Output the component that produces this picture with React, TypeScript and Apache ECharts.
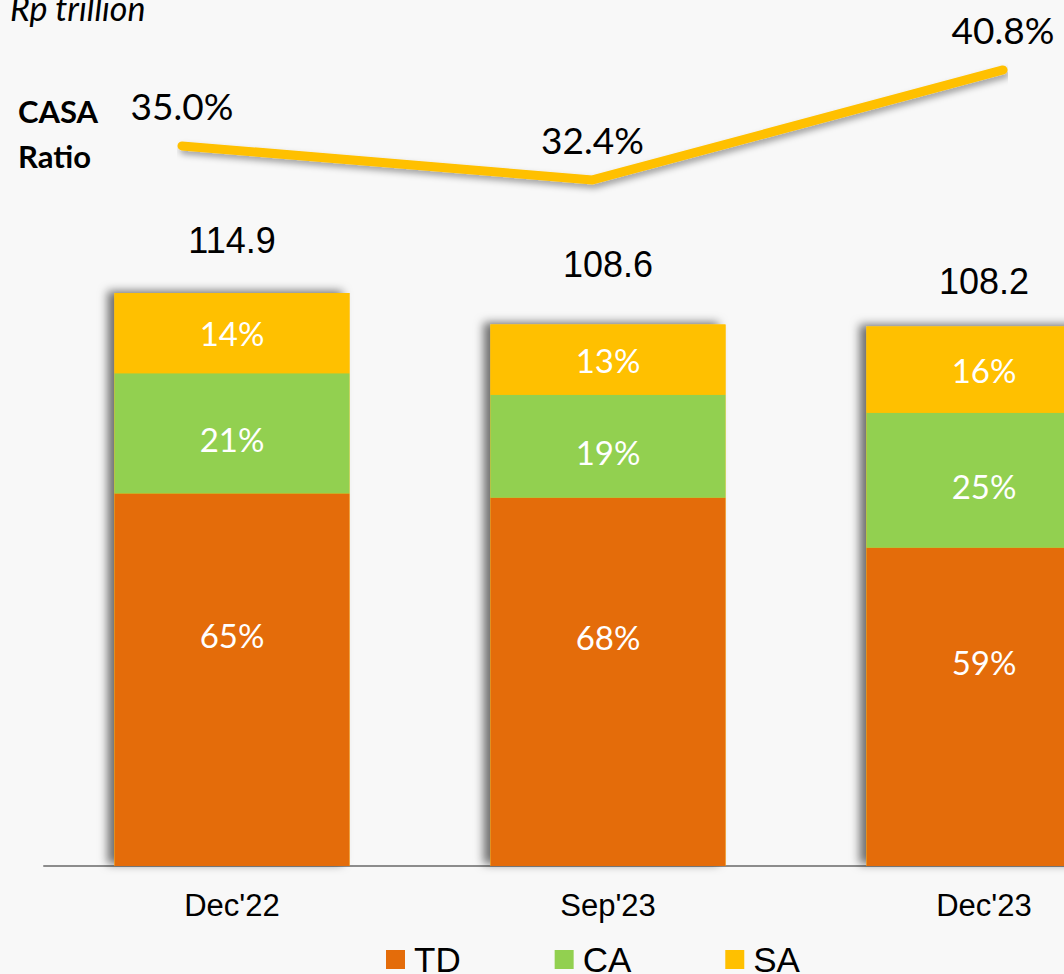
import React, { useEffect, useRef } from "react";
import * as echarts from "echarts";

const categories = ["Dec'22", "Sep'23", "Dec'23"];
const totals = [114.9, 108.6, 108.2];
const tdShare = [65, 68, 59];
const caShare = [21, 19, 25];
const saShare = [14, 13, 16];
const casaRatio = [35.0, 32.4, 40.8];
const totalLabelOffsets = [-30, -37, -22];

const TD_COLOR = "#E46C0A";
const CA_COLOR = "#92D050";
const SA_COLOR = "#FFC000";

export default function App() {
  const ref = useRef<HTMLDivElement>(null);
  useEffect(() => {
    if (!ref.current) return;
    const chart = echarts.init(ref.current, null, { renderer: "svg" });
    const seg = (share: number[]) => share.map((s, i) => +(totals[i] * s / 100).toFixed(2));
    const segLabel = (share: number[], offY: number) => ({
      show: true,
      position: "inside",
      color: "#fff",
      fontFamily: "Lato",
      fontSize: 33,
      offset: [0, offY],
      formatter: (p: any) => share[p.dataIndex] + "%",
    });
    chart.setOption({
      animation: false,
      backgroundColor: "#F8F8F8",
      grid: [
        { left: 44, top: 267.6, width: 1128, height: 598.4 },
        { left: 182, top: 54.2, width: 821, height: 157.2 },
      ],
      xAxis: [
        {
          type: "category",
          gridIndex: 0,
          data: categories,
          axisLine: { lineStyle: { color: "#8C8C8C", width: 2 } },
          axisTick: { show: false },
          axisLabel: { color: "#000", fontFamily: "Liberation Sans", fontSize: 31, margin: 24 },
        },
        {
          type: "category",
          gridIndex: 1,
          data: categories,
          boundaryGap: false,
          show: false,
        },
      ],
      yAxis: [
        { type: "value", gridIndex: 0, min: 0, max: 120, show: false, splitLine: { show: false } },
        { type: "value", gridIndex: 1, min: 30, max: 42, show: false, splitLine: { show: false } },
      ],
      legend: {
        data: ["TD", "CA", "SA"],
        left: 386,
        top: 942,
        padding: 0,
        icon: "rect",
        itemWidth: 19,
        itemHeight: 19,
        itemGap: 94,
        textStyle: { color: "#000", fontFamily: "Liberation Sans", fontSize: 35, padding: [0, 0, 0, 4] },
      },
      series: [
        {
          name: "Total",
          type: "bar",
          xAxisIndex: 0,
          yAxisIndex: 0,
          barWidth: 235,
          barGap: "-100%",
          z: 1,
          data: totals.map((v, i) => ({ value: v, label: { offset: [0, totalLabelOffsets[i]] } })),
          itemStyle: {
            color: SA_COLOR,
            shadowColor: "rgba(0,0,0,0.55)",
            shadowBlur: 10,
            shadowOffsetX: -7,
            shadowOffsetY: -2,
          },
          label: {
            show: true,
            position: "top",
            color: "#000",
            fontFamily: "Liberation Sans",
            fontSize: 36,
            formatter: (p: any) => totals[p.dataIndex].toFixed(1),
          },
        },
        {
          name: "TD",
          type: "bar",
          stack: "dep",
          barWidth: 235,
          barGap: "-100%",
          z: 2,
          data: seg(tdShare),
          itemStyle: { color: TD_COLOR },
          label: segLabel(tdShare, -45),
        },
        {
          name: "CA",
          type: "bar",
          stack: "dep",
          barWidth: 235,
          barGap: "-100%",
          z: 2,
          data: seg(caShare),
          itemStyle: { color: CA_COLOR },
          label: segLabel(caShare, 6),
        },
        {
          name: "SA",
          type: "bar",
          stack: "dep",
          barWidth: 235,
          barGap: "-100%",
          z: 2,
          data: seg(saShare),
          itemStyle: { color: SA_COLOR },
          label: segLabel(saShare, 0),
        },
        {
          name: "CASA Ratio",
          type: "line",
          xAxisIndex: 1,
          yAxisIndex: 1,
          data: casaRatio,
          symbol: "circle",
          symbolSize: 1,
          showSymbol: true,
          itemStyle: { color: "rgba(0,0,0,0)" },
          z: 3,
          lineStyle: {
            color: SA_COLOR,
            width: 9,
            cap: "round",
            join: "round",
            shadowColor: "rgba(0,0,0,0.35)",
            shadowBlur: 6,
            shadowOffsetX: 2,
            shadowOffsetY: 4,
          },
          label: {
            show: true,
            position: "top",
            distance: 21,
            color: "#000",
            fontFamily: "Lato",
            fontSize: 37,
            formatter: (p: any) => casaRatio[p.dataIndex].toFixed(1) + "%",
          },
        },
      ],
      graphic: [
        {
          type: "text",
          left: 10,
          top: -10,
          style: { text: "Rp trillion", fontFamily: "Lato", fontStyle: "italic", fontSize: 34, fill: "#000" },
        },
        {
          type: "text",
          left: 18,
          top: 88,
          style: {
            text: "CASA\nRatio",
            fontFamily: "Lato",
            fontWeight: "bold",
            fontSize: 31,
            lineHeight: 45,
            fill: "#000",
          },
        },
      ],
    });
    return () => chart.dispose();
  }, []);
  return (
    <div style={{ position: "absolute", left: 0, top: 0, width: 1064, height: 974, overflow: "hidden" }}>
      <div ref={ref} style={{ width: 1200, height: 974 }} />
    </div>
  );
}
